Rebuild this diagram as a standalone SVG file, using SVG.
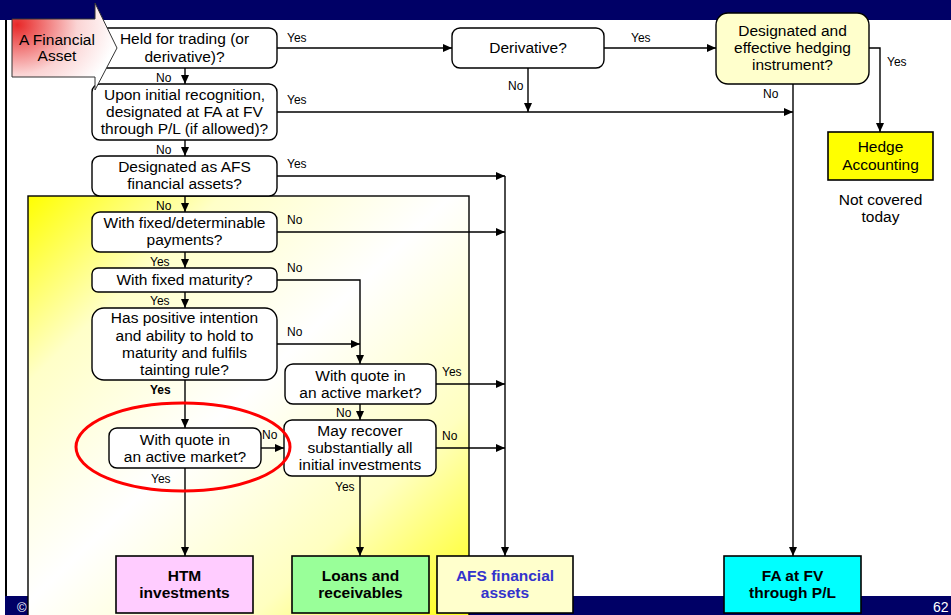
<svg xmlns="http://www.w3.org/2000/svg" width="951" height="615" viewBox="0 0 951 615">
<defs>
<style>
text{font-family:"Liberation Sans",Arial,sans-serif;fill:#000}
.t{font-size:15.5px;text-anchor:middle}
.b{font-size:15.5px;text-anchor:middle;font-weight:bold}
.l{font-size:12px}
.node{fill:#fff;stroke:#000;stroke-width:1.4}
.box{stroke:#000;stroke-width:1.6}
.c{fill:none;stroke:#000;stroke-width:1.4}
.ca{fill:none;stroke:#000;stroke-width:1.4;marker-end:url(#ah)}
</style>
<marker id="ah" markerUnits="userSpaceOnUse" markerWidth="10" markerHeight="8" refX="9" refY="4" orient="auto">
<path d="M0,0 L9,4 L0,8 Z" fill="#000"/>
</marker>
<linearGradient id="yg" x1="0" y1="0" x2="1" y2="1">
<stop offset="0" stop-color="#ffff00"/>
<stop offset="0.22" stop-color="#ffffc8"/>
<stop offset="0.48" stop-color="#ffffff"/>
<stop offset="0.75" stop-color="#ffffc0"/>
<stop offset="1" stop-color="#ffff10"/>
</linearGradient>
<radialGradient id="rg" cx="0.05" cy="0.25" r="0.95">
<stop offset="0" stop-color="#e82828"/>
<stop offset="0.6" stop-color="#fbd4d4"/>
<stop offset="1" stop-color="#ffffff"/>
</radialGradient>
</defs>
<rect x="0" y="0" width="951" height="615" fill="#fff"/>
<rect x="0" y="0" width="951" height="20" fill="#000066"/>
<rect x="5" y="596" width="946" height="19" fill="#000066"/>
<rect x="5" y="20" width="2" height="576" fill="#000"/>
<text x="17" y="612" fill="#fff" style="fill:#fff;font-size:13px">©</text>
<text x="933" y="612" style="fill:#fff;font-size:14px">62</text>
<rect id="region" x="28" y="196" width="441" height="424" fill="url(#yg)" stroke="#000" stroke-width="1.4"/>

<g id="connectors">
<path class="ca" d="M277,48 H452"/>
<path class="ca" d="M604,48 H716"/>
<path class="ca" d="M528,68 V112"/>
<path class="ca" d="M277,112 H793"/>
<path class="ca" d="M869,48 H880 V132"/>
<path class="ca" d="M793,84 V556"/>
<path class="ca" d="M277,176 H505"/>
<path class="ca" d="M505,176 V556"/>
<path class="ca" d="M277,232 H505"/>
<path class="ca" d="M277,280 H360 V364"/>
<path class="ca" d="M277,344 H360"/>
<path class="ca" d="M436,384 H505"/>
<path class="ca" d="M360,404 V420"/>
<path class="ca" d="M436,448 H505"/>
<path class="ca" d="M360,476 V556"/>
<path class="ca" d="M261,448 H284"/>
<path class="ca" d="M185,468 V556"/>
<path class="ca" d="M185,68 V84"/>
<path class="ca" d="M185,140 V156"/>
<path class="ca" d="M185,196 V212"/>
<path class="ca" d="M185,252 V268"/>
<path class="ca" d="M185,292 V308"/>
<path class="ca" d="M185,380 V428"/>
<text class="l" x="287" y="42">Yes</text>
<text class="l" x="287" y="104">Yes</text>
<text class="l" x="287" y="168">Yes</text>
<text class="l" x="508" y="90">No</text>
<text class="l" x="631" y="42">Yes</text>
<text class="l" x="887" y="66">Yes</text>
<text class="l" x="763" y="98">No</text>
<text class="l" x="156" y="82">No</text>
<text class="l" x="156" y="154">No</text>
<text class="l" x="156" y="210">No</text>
<text class="l" x="287" y="224">No</text>
<text class="l" x="150" y="266">Yes</text>
<text class="l" x="287" y="272">No</text>
<text class="l" x="150" y="305">Yes</text>
<text class="l" x="287" y="336">No</text>
<text class="l" x="150" y="394" font-weight="bold">Yes</text>
<text class="l" x="442" y="376">Yes</text>
<text class="l" x="336" y="417">No</text>
<text class="l" x="442" y="440">No</text>
<text class="l" x="335" y="491">Yes</text>
<text class="l" x="262" y="439">No</text>
<text class="l" x="151" y="483">Yes</text>
</g>

<g id="n-held">
<rect class="node" x="92" y="28" width="185" height="40" rx="8"/>
<text class="t" x="184.5" y="44">Held for trading (or</text>
<text class="t" x="184.5" y="62">derivative)?</text>
</g>
<g id="n-upon">
<rect class="node" x="92" y="84" width="185" height="56" rx="8"/>
<text class="t" x="184.5" y="100">Upon initial recognition,</text>
<text class="t" x="184.5" y="117">designated at FA at FV</text>
<text class="t" x="184.5" y="134">through P/L (if allowed)?</text>
</g>
<g id="n-afsdes">
<rect class="node" x="92" y="156" width="185" height="40" rx="8"/>
<text class="t" x="184.5" y="172">Designated as AFS</text>
<text class="t" x="184.5" y="189">financial assets?</text>
</g>
<g id="n-fixedpay">
<rect class="node" x="92" y="212" width="185" height="40" rx="8"/>
<text class="t" x="184.5" y="228">With fixed/determinable</text>
<text class="t" x="184.5" y="245">payments?</text>
</g>
<g id="n-fixedmat">
<rect class="node" x="92" y="268" width="185" height="24" rx="6"/>
<text class="t" x="184.5" y="285">With fixed maturity?</text>
</g>
<g id="n-intent">
<rect class="node" x="92" y="308" width="185" height="72" rx="12"/>
<text class="t" x="184.5" y="323">Has positive intention</text>
<text class="t" x="184.5" y="341">and ability to hold to</text>
<text class="t" x="184.5" y="358">maturity and fulfils</text>
<text class="t" x="184.5" y="375">tainting rule?</text>
</g>
<g id="n-quote2">
<rect class="node" x="285" y="364" width="151" height="40" rx="8"/>
<text class="t" x="360.5" y="381">With quote in</text>
<text class="t" x="360.5" y="398">an active market?</text>
</g>
<g id="n-recover">
<rect class="node" x="284" y="420" width="152" height="56" rx="8"/>
<text class="t" x="360" y="436">May recover</text>
<text class="t" x="360" y="453">substantially all</text>
<text class="t" x="360" y="470">initial investments</text>
</g>
<g id="n-quote1">
<rect class="node" x="109" y="428" width="152" height="40" rx="8"/>
<text class="t" x="185" y="445">With quote in</text>
<text class="t" x="185" y="462">an active market?</text>
</g>
<g id="n-deriv">
<rect class="node" x="452" y="28" width="152" height="40" rx="8"/>
<text class="t" x="528" y="53">Derivative?</text>
</g>
<g id="n-hedgeq">
<rect class="node" x="716" y="13" width="153" height="71" rx="12" style="fill:#ffffcc"/>
<text class="t" x="792.5" y="36">Designated and</text>
<text class="t" x="792.5" y="53">effective hedging</text>
<text class="t" x="792.5" y="70">instrument?</text>
</g>
<g id="n-hedgeacc">
<rect class="box" x="828" y="132" width="105" height="48" fill="#ffff00"/>
<text class="t" x="880.5" y="152">Hedge</text>
<text class="t" x="880.5" y="170">Accounting</text>
<text class="t" x="880.5" y="205">Not covered</text>
<text class="t" x="880.5" y="222">today</text>
</g>
<g id="n-htm">
<rect class="box" x="116" y="556" width="137" height="57" fill="#ffccff"/>
<text class="b" x="184.5" y="581">HTM</text>
<text class="b" x="184.5" y="598">investments</text>
</g>
<g id="n-loans">
<rect class="box" x="292" y="556" width="137" height="57" fill="#99ff99"/>
<text class="b" x="360.5" y="581">Loans and</text>
<text class="b" x="360.5" y="598">receivables</text>
</g>
<g id="n-afs">
<rect class="box" x="437" y="556" width="136" height="57" fill="#ffffcc"/>
<text class="b" x="505" y="581" style="fill:#3333cc">AFS financial</text>
<text class="b" x="505" y="598" style="fill:#3333cc">assets</text>
</g>
<g id="n-fvpl">
<rect class="box" x="724" y="556" width="137" height="57" fill="#00ffff"/>
<text class="b" x="792.5" y="581">FA at FV</text>
<text class="b" x="792.5" y="598">through P/L</text>
</g>
<g id="n-start">
<path d="M12,19 H95 V3 L117,48 L95,90 V77 H12 Z" fill="url(#rg)" stroke="#333" stroke-width="1"/>
<text class="t" x="57" y="45">A Financial</text>
<text class="t" x="57" y="61">Asset</text>
</g>
<ellipse id="highlight" cx="183" cy="447" rx="107" ry="44" fill="none" stroke="#ff0000" stroke-width="3"/>
</svg>
